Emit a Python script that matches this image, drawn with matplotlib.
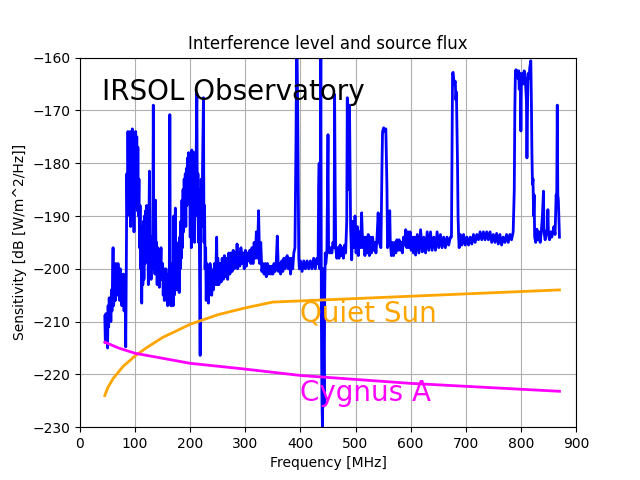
import numpy as np
from matplotlib import pyplot as plt

spec_freq = [
    45, 46, 47, 48, 49, 50, 51, 52, 53, 54, 55, 56, 57, 58, 60, 61, 63, 64, 65, 66,
    67, 68, 69, 70, 71, 72, 73, 74, 75, 76, 77, 78, 79, 80, 81, 82, 83, 84, 85, 86,
    87, 88, 89, 90, 91, 92, 93, 94, 95, 96, 97, 98, 99, 100, 101, 102, 103, 104, 105, 106,
    107, 108, 109, 110, 111, 112, 113, 114, 115, 116, 117, 118, 119, 120, 121, 122, 123, 124, 125, 126,
    127, 128, 129, 130, 131, 132, 133, 134, 135, 136, 137, 138, 139, 140, 141, 142, 143, 144, 145, 146,
    147, 148, 150, 151, 152, 153, 154, 155, 156, 157, 158, 159, 160, 161, 162, 163, 164, 165, 166, 167,
    168, 169, 170, 171, 172, 173, 174, 175, 176, 177, 178, 179, 180, 181, 182, 183, 184, 185, 186, 187,
    188, 189, 190, 191, 192, 193, 194, 195, 196, 197, 198, 199, 200, 201, 202, 203, 204, 205, 206, 207,
    208, 209, 210, 212, 213, 214, 215, 216, 218, 219, 220, 221, 222, 224, 225, 226, 227, 228, 229, 230,
    231, 232, 233, 234, 235, 236, 237, 238, 239, 240, 242, 244, 246, 248, 249, 250, 252, 254, 256, 258,
    260, 262, 264, 266, 268, 270, 272, 274, 276, 278, 280, 282, 284, 285, 286, 288, 290, 292, 294, 296,
    298, 300, 302, 304, 306, 308, 310, 312, 314, 316, 318, 320, 322, 324, 326, 328, 330, 332, 334, 336,
    338, 340, 342, 344, 346, 348, 350, 352, 354, 356, 358, 360, 362, 364, 366, 368, 370, 372, 374, 376,
    378, 380, 382, 384, 386, 388, 390, 392, 393, 394, 395, 396, 397, 398, 400, 403, 406, 409, 412, 415,
    418, 421, 424, 427, 430, 432, 433, 434, 435, 436, 437, 438, 439, 440, 441, 442, 443, 444, 445, 446,
    448, 450, 451, 453, 455, 457, 459, 461, 462, 463, 464, 466, 468, 470, 472, 474, 476, 478, 480, 482,
    484, 485, 486, 488, 489, 490, 491, 493, 495, 497, 499, 501, 503, 505, 507, 509, 511, 513, 515, 517,
    519, 521, 523, 525, 527, 529, 531, 533, 535, 537, 539, 541, 543, 546, 548, 549, 551, 553, 555, 557,
    558, 560, 562, 563, 565, 567, 569, 571, 573, 575, 577, 579, 581, 583, 585, 587, 589, 591, 593, 595,
    597, 599, 601, 603, 605, 607, 609, 612, 615, 618, 621, 624, 627, 630, 633, 636, 639, 642, 645, 648,
    651, 654, 657, 660, 663, 666, 669, 672, 674, 676, 677, 679, 681, 682, 683, 685, 686, 687, 688, 690,
    693, 696, 699, 702, 705, 708, 711, 714, 717, 720, 723, 726, 729, 732, 735, 738, 741, 744, 747, 750,
    753, 756, 759, 762, 765, 768, 771, 774, 777, 780, 783, 786, 788, 789, 790, 791, 792, 793, 795, 796,
    797, 799, 800, 801, 803, 804, 806, 808, 810, 811, 812, 813, 815, 816, 818, 819, 820, 821, 822, 823,
    824, 825, 827, 829, 831, 833, 835, 837, 839, 841, 842, 844, 846, 848, 849, 850, 852, 854, 856, 858,
    860, 862, 864, 865, 866, 867, 868, 870,
]
spec_db = [
    -209, -214, -208.5, -213, -210, -215, -207, -211, -205.5, -209, -206, -210, -204, -208, -196, -207, -203, -206, -199, -204,
    -202, -205, -199, -203, -201, -206, -200, -204, -201, -207, -202, -206, -201, -208, -203, -205, -214.8, -200, -182, -190,
    -174, -186, -175, -188, -174, -192, -176, -190, -173.5, -185, -178, -193, -176, -188, -174, -186, -175, -189, -177, -190,
    -183, -196, -188, -200, -192, -206.5, -195, -203, -191, -202, -190, -199, -189, -198, -188, -197, -192, -203, -193, -181.5,
    -199, -195, -202, -194, -200, -196, -169, -198, -194, -201, -187, -199, -195, -203, -196, -201, -197, -203.5, -197, -199,
    -196, -202, -199, -205, -200, -206, -201, -204, -200, -206, -202, -207, -201, -205, -203, -170.8, -204, -207, -201, -205,
    -199, -207, -190, -205, -198, -188.5, -203, -197, -204, -196, -203, -195, -204.5, -194, -200, -191, -198, -187, -196, -185,
    -193, -183, -190, -182, -192, -181, -188, -179, -186, -178, -185, -180, -194, -178, -196, -177.5, -186, -179, -190, -178,
    -195, -180, -186, -166.7, -190, -182, -195, -185, -216.4, -190, -183, -192, -184, -167.6, -195, -188, -200, -196, -206, -199,
    -205, -201, -206.5, -200, -205, -199, -204, -200, -205, -201, -204, -199, -203, -194, -203, -198, -203, -199, -202.5, -198,
    -202, -197.5, -201.5, -198, -202, -197, -201, -197, -200.5, -196.5, -200, -197, -199.5, -195.3, -200, -197, -199.5, -196, -199, -197,
    -200, -196.5, -199.5, -197, -198.5, -196.5, -199, -196, -199, -195, -198, -193, -198, -189, -199, -195, -200.5, -199, -201, -199,
    -201.5, -199, -201, -199.5, -201, -199.5, -201, -199, -200.5, -199, -193.8, -200.5, -199, -201, -198.5, -200.5, -198, -200, -198, -197.5,
    -200, -198, -201, -198, -200, -197, -196, -175, -158, -160, -170, -185, -198, -200, -198.5, -200.5, -198.5, -200, -198.5, -200,
    -198.5, -200, -198, -200, -198, -199, -185, -180, -200, -190, -158, -210, -225, -230.5, -200, -215, -226, -205, -197, -199,
    -197, -174.6, -196, -197, -196, -197, -195, -196, -167, -185, -196, -198, -196, -198, -195.5, -197.5, -196, -198, -195.5, -197,
    -191, -167.6, -185, -172, -169, -180, -192, -198.3, -191, -196, -190, -197, -192, -197.5, -193, -196, -189.4, -196, -194, -197.5,
    -194, -197, -193.5, -197.5, -194, -197, -194, -196.5, -195, -197, -194, -189.4, -195, -196, -180, -174, -173.3, -174, -173.5, -185,
    -196, -195, -189, -195, -197.5, -195, -197.5, -195, -197, -194.5, -196.5, -194.5, -196.5, -195, -197, -194, -195.5, -192.6, -196, -193,
    -196, -193, -196.5, -194, -197, -194, -197.4, -193.5, -197, -192.6, -196.8, -194, -197, -193, -196.5, -193, -196.5, -194, -196.5, -193,
    -196, -193.5, -196, -194, -196, -194, -195.5, -194, -194, -163, -162.8, -165, -164.5, -168, -166.5, -180, -190, -194, -196, -193.5,
    -195.5, -193.5, -195.5, -194, -195.5, -194, -195.3, -193.5, -195, -193.5, -194.5, -193, -194.5, -193, -194.5, -193, -194.5, -193, -195, -193.5,
    -195, -193.3, -195.3, -193.5, -195.5, -194, -195, -193.5, -195, -193.5, -194.5, -193, -185, -170, -163, -162.3, -163.5, -162.5, -164, -162.5,
    -166, -163, -173.9, -164, -163, -165, -162.5, -164, -168, -179, -170, -163, -164, -162, -160.6, -168, -178, -184, -183, -190,
    -186, -194, -195, -192.5, -194.5, -193, -195, -193, -190, -185.3, -193, -194.5, -193, -192.5, -188.8, -193.5, -194.5, -193, -194, -193,
    -192, -193.5, -186, -187, -169, -186, -187, -194,
]

# source flux curves (MHz, dB)
sun_freq = [45, 50, 60, 78, 100, 120, 150, 200, 250, 300, 350, 870]
sun_db = [-224, -222.6, -220.8, -218.5, -216.5, -215.0, -213.0, -210.5, -208.7, -207.4, -206.3, -204.0]
cyg_freq = [45, 70, 100, 200, 300, 400, 600, 870]
cyg_db = [-213.9, -215.0, -216.0, -217.9, -219.0, -220.2, -221.7, -223.2]

fig = plt.figure(figsize=(6.4, 4.8), dpi=100)
plt.plot(spec_freq, spec_db, color='b', linewidth=2)
plt.plot(sun_freq, sun_db, color='orange', linewidth=2)
plt.plot(cyg_freq, cyg_db, color='magenta', linewidth=2)

plt.text(40, -168, 'IRSOL Observatory', fontsize=20, color='k')
plt.text(400, -210, 'Quiet Sun', fontsize=20, color='orange')
plt.text(400, -225, 'Cygnus A', fontsize=20, color='magenta')

plt.xlim(0, 900)
plt.ylim(-230, -160)
plt.grid()
plt.title('Interference level and source flux')
plt.xlabel('Frequency [MHz]')
plt.ylabel('Sensitivity [dB [W/m^2/Hz]]')
plt.savefig('out.png')
